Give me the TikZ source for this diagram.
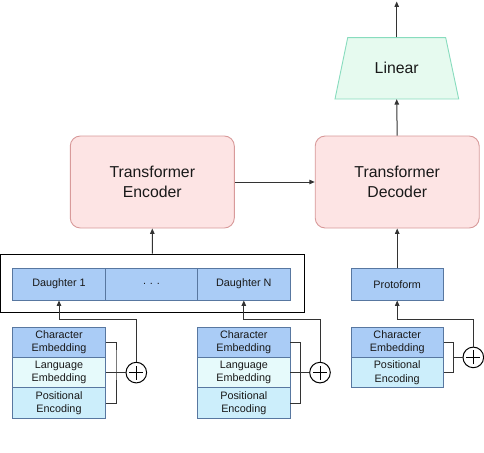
\documentclass[tikz,border=0pt]{standalone}
\usepackage{fontspec}
\setmainfont{Liberation Sans}
\usetikzlibrary{arrows.meta}
\definecolor{cellblue}{HTML}{AACCF6}
\definecolor{cellborder}{HTML}{5877A0}
\definecolor{langfill}{HTML}{E6FAFB}
\definecolor{posfill}{HTML}{CCEEFB}
\definecolor{redfill}{HTML}{FDE4E4}
\definecolor{redline}{HTML}{D89A9A}
\definecolor{greenfill}{HTML}{E6FAEF}
\definecolor{greenline}{HTML}{88DCBE}
\begin{document}
\begin{tikzpicture}[x=1pt,y=-1pt,
  bigbox/.style={draw=redline,fill=redfill,rounded corners=10pt,line width=0.9pt,
    minimum width=164pt,minimum height=92pt,inner sep=0pt,align=center,
    font=\fontsize{15.8}{20}\selectfont,text=black!90},
  cell/.style={draw=cellborder,line width=0.8pt,minimum width=92.5pt,inner sep=0pt,
    align=center,font=\fontsize{10.8}{13.3}\selectfont,text=black!90},
  dcell/.style={cell,fill=cellblue,minimum height=31.7pt},
  ecell/.style={cell,minimum height=30.4pt},
  wire/.style={line width=1pt,black!80},
  arr/.style={wire,-{Triangle[width=4.5pt,length=5.5pt]}},
  plus/.style={circle,draw=black,line width=1pt,minimum size=20.6pt,inner sep=0pt}
]
\useasboundingbox (0,0) rectangle (484,452);

% Linear
\draw[fill=greenfill,draw=greenline,line width=0.9pt]
  (347.7,37.7) -- (445.7,37.7) -- (458.7,99) -- (335,99) -- cycle;
\node[minimum width=98pt,minimum height=61.3pt,inner sep=0pt,
  font=\fontsize{15.8}{20}\selectfont,text=black!90] (lin) at (396.7,68.3) {Linear};
\coordinate (out) at (396.7,1.5);

% Transformers
\node[bigbox] (enc) at (152.3,182) {Transformer\\Encoder};
\node[bigbox] (dec) at (397.2,182) {Transformer\\Decoder};

% Frame with daughters
\node[draw=black,line width=1pt,minimum width=303.3pt,minimum height=58pt,inner sep=0pt]
  (frame) at (152.35,283) {};
\node[dcell] (d1) at (59,284.2) {Daughter 1};
\node[dcell] (dd) at (151.5,284.2) {. . .};
\node[dcell] (dn) at (243.8,284.2) {Daughter N};
\node[dcell] (proto) at (397.2,284.2) {Protoform};

% Stacks
\node[ecell,fill=cellblue] (c1) at (59,342.2) {Character\\Embedding};
\node[ecell,fill=langfill] (l1) at (59,372.6) {Language\\Embedding};
\node[ecell,fill=posfill] (p1) at (59,403) {Positional\\Encoding};

\node[ecell,fill=cellblue] (c2) at (243.8,342.2) {Character\\Embedding};
\node[ecell,fill=langfill] (l2) at (243.8,372.6) {Language\\Embedding};
\node[ecell,fill=posfill] (p2) at (243.8,403) {Positional\\Encoding};

\node[ecell,fill=cellblue] (c3) at (397.2,342.2) {Character\\Embedding};
\node[ecell,fill=posfill] (p3) at (397.2,372.6) {Positional\\Encoding};

% Plus circles
\node[plus] (s1) at (136.3,372.6) {};
\node[plus] (s2) at (320,372.6) {};
\node[plus] (s3) at (473.3,357.4) {};
\foreach \s in {s1,s2,s3}{
  \draw[line width=1pt] ([xshift=-7pt]\s.center) -- ([xshift=7pt]\s.center);
  \draw[line width=1pt] ([yshift=-7pt]\s.center) -- ([yshift=7pt]\s.center);
}

% Brackets
\draw[wire] (c1.east) -| (116,357) |- (p1.east);
\draw[wire] (l1.east) -- (s1.west);
\draw[wire] (c2.east) -| (300.3,357) |- (p2.east);
\draw[wire] (l2.east) -- (s2.west);
\draw[wire] (c3.east) -| (453.3,357.4) |- (p3.east);
\draw[wire] (453.3,357.4) -- (s3.west);

% Up connectors
\draw[arr] (s1.north) |- (59,319) -- (d1.south);
\draw[arr] (s2.north) |- (243.8,319) -- (dn.south);
\draw[arr] (s3.north) |- (397.2,319) -- (proto.south);

\draw[arr] (frame.north) -- (enc.south);
\draw[arr] (proto.north) -- (dec.south);
\draw[arr] (enc.east) -- (dec.west);
\draw[arr] (dec.north) -- (lin.south);
\draw[arr] (lin.north) -- (out);
\end{tikzpicture}
\end{document}
